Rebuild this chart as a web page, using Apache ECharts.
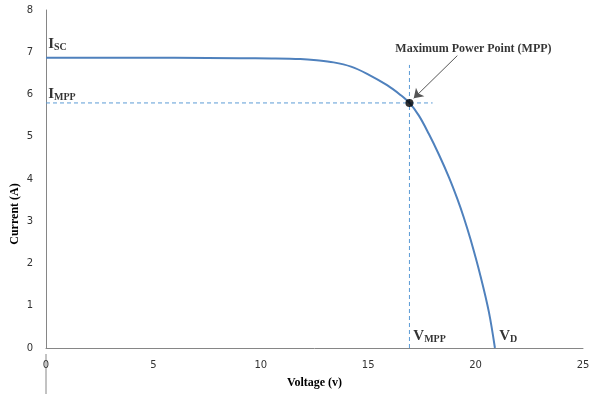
<!DOCTYPE html>
<html><head><meta charset="utf-8">
<script src="https://cdn.jsdelivr.net/npm/echarts@6/dist/echarts.min.js"></script>
<style>html,body{margin:0;padding:0;background:#fff}#c{width:597px;height:394px}</style>
</head><body><div id="c"></div>
<script>
const voltage = [0, 3, 6, 9, 10.5, 11.84, 12.6, 13.39, 14.2, 14.95, 15.88, 16.5, 16.92, 17.36, 17.82, 18.29, 18.76, 19.15, 19.45, 19.77, 20.23, 20.62, 20.9];
const current = [6.87, 6.87, 6.87, 6.86, 6.855, 6.84, 6.81, 6.76, 6.66, 6.49, 6.22, 5.99, 5.80, 5.50, 5.07, 4.58, 4.04, 3.53, 3.09, 2.56, 1.70, 0.85, 0];
const mpp = [16.92, 5.80];
const mppHLine = [[0, 5.80], [18.0, 5.80]];
const mppVLine = [[16.92, 0], [16.92, 6.7]];
const arrowFrom = [19.15, 6.92];
const arrowTo = [17.12, 5.91];
const xTicks = [0, 5, 10, 15, 20, 25];
const yTicks = [0, 1, 2, 3, 4, 5, 6, 7, 8];
const textLabels = [
  {name: 'Isc', coord: [0.1, 7.19], main: 'I', sub: 'SC'},
  {name: 'Impp', coord: [0.1, 6.02], main: 'I', sub: 'MPP'},
  {name: 'Vmpp', coord: [17.1, 0.28], main: 'V', sub: 'MPP'},
  {name: 'Vd', coord: [21.1, 0.28], main: 'V', sub: 'D'}
];
const mppTitle = {text: 'Maximum Power Point (MPP)', coord: [19.9, 7.07]};

const serif = 'Liberation Serif';
const rich = {
  a: {fontFamily: serif, fontWeight: 'bold', fontSize: 15, color: '#000'},
  b: {fontFamily: serif, fontWeight: 'bold', fontSize: 10, color: '#000', padding: [7, 0, 0, 0]}
};

const chart = echarts.init(document.getElementById('c'));
const pts = voltage.map((v, i) => [v, current[i]]);
const dash = {color: '#5B9BD5', width: 1, type: [4, 3]};
chart.setOption({
  animation: false,
  grid: {left: 46, right: 14, top: 10, bottom: 40},
  xAxis: {
    type: 'value', min: xTicks[0], max: xTicks[xTicks.length - 1], interval: 5,
    axisLine: {lineStyle: {color: '#868686'}}, axisTick: {show: false}, splitLine: {show: false},
    axisLabel: {fontFamily: 'DejaVu Sans', fontSize: 10, color: '#333', margin: 12},
    name: 'Voltage (v)', nameLocation: 'middle', nameGap: 29,
    nameTextStyle: {fontFamily: serif, fontWeight: 'bold', fontSize: 12, color: '#000'}
  },
  yAxis: {
    type: 'value', min: yTicks[0], max: yTicks[yTicks.length - 1], interval: 1,
    axisLine: {show: true, lineStyle: {color: '#868686'}}, axisTick: {show: false}, splitLine: {show: false},
    axisLabel: {fontFamily: 'DejaVu Sans', fontSize: 10, color: '#333', margin: 13}
  },
  graphic: [
    {type: 'line', shape: {x1: 46, y1: 354, x2: 46, y2: 394}, style: {stroke: '#868686', lineWidth: 1}},
    {type: 'text', x: 15, y: 214, rotation: Math.PI / 2, style: {text: 'Current (A)', font: 'bold 12px "Liberation Serif"', fill: '#000', align: 'center', verticalAlign: 'middle'}}
  ],
  series: [
    {type: 'line', data: mppHLine, symbol: 'none', lineStyle: dash, z: 1},
    {type: 'line', data: mppVLine, symbol: 'none', lineStyle: dash, z: 1},
    {type: 'line', data: pts, symbol: 'none', smooth: 0.35, lineStyle: {color: '#4F81BD', width: 2}, z: 2,
      markLine: {
        silent: true, symbol: ['none', 'arrow'], symbolSize: 9,
        lineStyle: {color: '#555', width: 1, type: 'solid'}, label: {show: false},
        data: [[{coord: arrowFrom}, {coord: arrowTo}]]
      }
    },
    {type: 'scatter', data: [mpp], symbolSize: 8, itemStyle: {color: '#000'}, z: 5},
    {type: 'scatter', symbolSize: 0, z: 6,
      data: textLabels.map(t => ({name: t.name, value: t.coord, main: t.main, sub: t.sub})),
      label: {show: true, position: 'right', distance: 0, rich: rich,
        formatter: p => '{a|' + p.data.main + '}{b|' + p.data.sub + '}'}
    },
    {type: 'scatter', symbolSize: 0, z: 6,
      data: [{value: mppTitle.coord, name: mppTitle.text}],
      label: {show: true, position: 'inside', formatter: p => p.name,
        fontFamily: serif, fontWeight: 'bold', fontSize: 12, color: '#000'}
    }
  ]
});
</script></body></html>
